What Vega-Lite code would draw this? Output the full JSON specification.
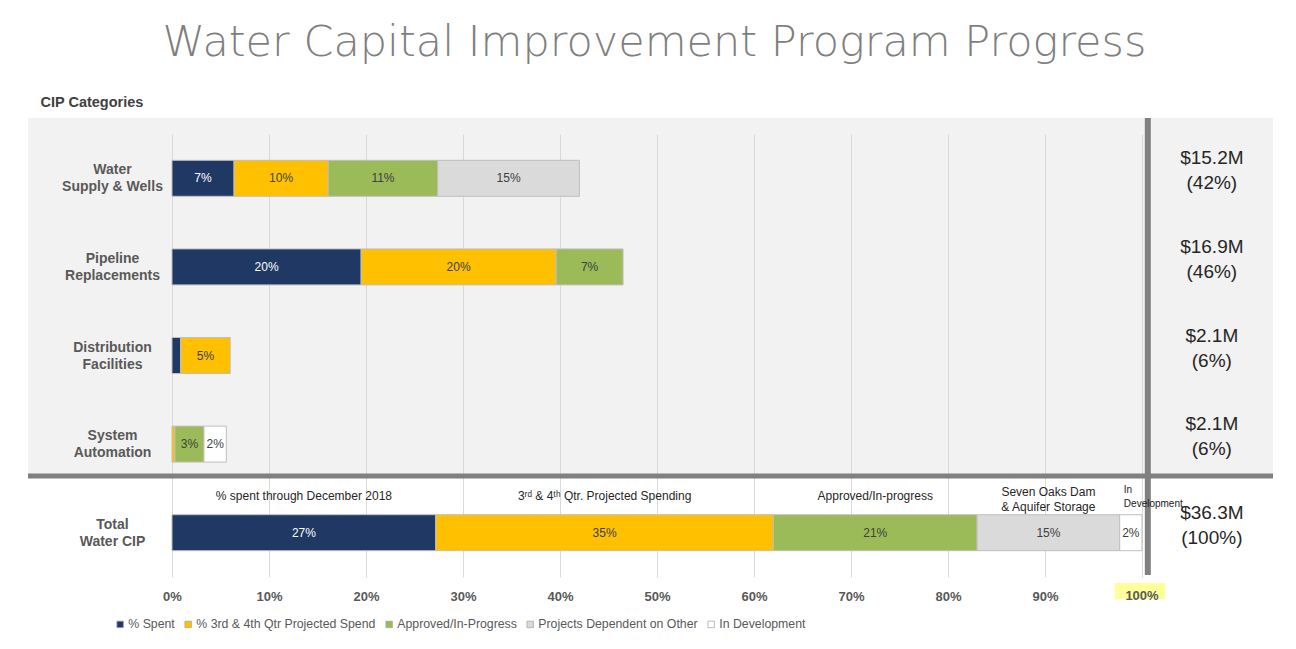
{
  "$schema": "https://vega.github.io/schema/vega-lite/v6.json",
  "width": 1245,
  "height": 358,
  "autosize": {"type": "none"},
  "padding": {"left": 28, "top": 118, "right": 23, "bottom": 173},
  "background": "white",
  "view": {"fill": "#f2f2f2", "stroke": null},
  "title": {
    "text": "Water Capital Improvement Program Progress",
    "font": "DejaVu Sans",
    "fontSize": 43,
    "fontWeight": 200,
    "color": "#7f7f7f",
    "anchor": "middle",
    "baseline": "alphabetic",
    "offset": -5,
    "dx": 4
  },
  "datasets": {
    "segments": [
      {"cat": "Water Supply & Wells", "type": "% Spent", "k": 1, "v": 6.4, "label": "7%", "note": ""},
      {"cat": "Water Supply & Wells", "type": "% 3rd & 4th Qtr Projected Spend", "k": 2, "v": 9.7, "label": "10%", "note": ""},
      {"cat": "Water Supply & Wells", "type": "Approved/In-Progress", "k": 3, "v": 11.3, "label": "11%", "note": ""},
      {"cat": "Water Supply & Wells", "type": "Projects Dependent on Other", "k": 4, "v": 14.6, "label": "15%", "note": ""},
      {"cat": "Pipeline Replacements", "type": "% Spent", "k": 1, "v": 19.5, "label": "20%", "note": ""},
      {"cat": "Pipeline Replacements", "type": "% 3rd & 4th Qtr Projected Spend", "k": 2, "v": 20.1, "label": "20%", "note": ""},
      {"cat": "Pipeline Replacements", "type": "Approved/In-Progress", "k": 3, "v": 6.9, "label": "7%", "note": ""},
      {"cat": "Distribution Facilities", "type": "% Spent", "k": 1, "v": 0.9, "label": "", "note": ""},
      {"cat": "Distribution Facilities", "type": "% 3rd & 4th Qtr Projected Spend", "k": 2, "v": 5.1, "label": "5%", "note": ""},
      {"cat": "System Automation", "type": "% 3rd & 4th Qtr Projected Spend", "k": 2, "v": 0.3, "label": "", "note": ""},
      {"cat": "System Automation", "type": "Approved/In-Progress", "k": 3, "v": 3.0, "label": "3%", "note": ""},
      {"cat": "System Automation", "type": "In Development", "k": 5, "v": 2.3, "label": "2%", "note": ""},
      {"cat": "Total Water CIP", "type": "% Spent", "k": 1, "v": 27.2, "label": "27%", "note": "% spent through December 2018"},
      {"cat": "Total Water CIP", "type": "% 3rd & 4th Qtr Projected Spend", "k": 2, "v": 34.8, "label": "35%", "note": "3ʳᵈ & 4ᵗʰ Qtr. Projected Spending"},
      {"cat": "Total Water CIP", "type": "Approved/In-Progress", "k": 3, "v": 21.0, "label": "21%", "note": "Approved/In-progress"},
      {"cat": "Total Water CIP", "type": "Projects Dependent on Other", "k": 4, "v": 14.7, "label": "15%", "note": "Seven Oaks Dam\n& Aquifer Storage"},
      {"cat": "Total Water CIP", "type": "In Development", "k": 5, "v": 2.3, "label": "2%", "note": "In\nDevelopment"}
    ],
    "totals": [
      {"cat": "Water Supply & Wells", "amt": "$15.2M\n(42%)"},
      {"cat": "Pipeline Replacements", "amt": "$16.9M\n(46%)"},
      {"cat": "Distribution Facilities", "amt": "$2.1M\n(6%)"},
      {"cat": "System Automation", "amt": "$2.1M\n(6%)"},
      {"cat": "Total Water CIP", "amt": "$36.3M\n(100%)"}
    ]
  },
  "layer": [
    {
      "data": {"name": "segments"},
      "mark": {"type": "bar", "stroke": "#bfbfbf", "strokeWidth": 1},
      "encoding": {
        "x": {
          "field": "v", "type": "quantitative", "stack": "zero", "title": null,
          "scale": {"domain": [-14.845, 113.505], "nice": false, "zero": false},
          "axis": {
            "orient": "top",
            "values": [0, 10, 20, 30, 40, 50, 60, 70, 80, 90, 100],
            "labelExpr": "datum.value < 100 ? datum.value + '%' : ''",
            "grid": true, "gridColor": "#d9d9d9", "gridWidth": 1,
            "domain": false, "ticks": false, "minExtent": 0, "maxExtent": 0,
            "labelPadding": -472, "labelBaseline": "top", "labelFontSize": 13,
            "labelFontWeight": "bold", "labelColor": "#595959",
            "labelOverlap": false, "labelFlush": false, "title": null
          }
        },
        "y": {
          "field": "cat", "type": "nominal", "title": "CIP Categories",
          "scale": {
            "domain": ["Water Supply & Wells", "Pipeline Replacements", "Distribution Facilities", "System Automation", "Total Water CIP"],
            "range": [16, 459], "paddingInner": 0.594, "paddingOuter": 0.297
          },
          "axis": {
            "offset": -144, "labelPadding": 60, "labelAlign": "center", "labelOffset": -8,
            "labelFontSize": 14, "labelFontWeight": "bold", "labelColor": "#595959",
            "labelLineHeight": 17, "labelOverlap": false, "labelLimit": 300,
            "labelExpr": "[slice(datum.label, 0, indexof(datum.label, ' ')), slice(datum.label, indexof(datum.label, ' ') + 1)]",
            "domain": false, "ticks": false, "grid": false,
            "title": "CIP Categories", "titleAngle": 0, "titleX": -132, "titleY": -12,
            "titleAlign": "left", "titleBaseline": "alphabetic", "titleFontSize": 14.5,
            "titleFontWeight": "bold", "titleColor": "#404040"
          }
        },
        "color": {
          "field": "type", "type": "nominal",
          "scale": {
            "domain": ["% Spent", "% 3rd & 4th Qtr Projected Spend", "Approved/In-Progress", "Projects Dependent on Other", "In Development"],
            "range": ["#203864", "#ffc000", "#9bbb59", "#dadada", "#ffffff"]
          },
          "legend": {
            "orient": "none", "legendX": 86, "legendY": 500, "direction": "horizontal",
            "title": null, "symbolType": "square", "symbolSize": 42,
            "labelFontSize": 12.3, "labelColor": "#595959", "columnPadding": 7, "labelLimit": 400,
            "labelOffset": 2, "symbolStrokeColor": "#a6a6a6", "symbolStrokeWidth": 0.75
          }
        },
        "order": {"field": "k", "type": "quantitative"}
      }
    },
    {
      "data": {"values": [{}]},
      "mark": {"type": "rule", "color": "#808080", "strokeWidth": 5},
      "encoding": {
        "x": {"value": 0},
        "x2": {"value": "width"},
        "y": {"value": "height"}
      }
    },
    {
      "data": {"values": [{}]},
      "mark": {"type": "rule", "y": 0, "y2": {"expr": "range('y')[1] - 2"}, "color": "#808080", "strokeWidth": 6},
      "encoding": {"x": {"datum": 100.6, "type": "quantitative", "title": null}}
    },
    {
      "data": {"values": [{}]},
      "mark": {"type": "rect", "color": "#ffff99", "y": {"expr": "range('y')[1] + 6"}, "y2": {"expr": "range('y')[1] + 22"}},
      "encoding": {
        "x": {"datum": 97.2, "type": "quantitative", "title": null},
        "x2": {"datum": 102.4}
      }
    },
    {
      "data": {"values": [{}]},
      "mark": {"type": "text", "y": {"expr": "range('y')[1] + 13"}, "baseline": "top", "fontSize": 13, "fontWeight": "bold", "color": "#595959"},
      "encoding": {
        "x": {"datum": 100, "type": "quantitative", "title": null},
        "text": {"value": "100%"}
      }
    },
    {
      "data": {"name": "segments"},
      "mark": {"type": "text", "fontSize": 12, "baseline": "middle"},
      "encoding": {
        "x": {"field": "v", "type": "quantitative", "stack": "zero", "bandPosition": 0.5, "title": null},
        "y": {"field": "cat", "type": "nominal", "title": "CIP Categories"},
        "detail": {"field": "type"},
        "order": {"field": "k", "type": "quantitative"},
        "text": {"field": "label"},
        "color": {"condition": {"test": "datum.type === '% Spent'", "value": "#ffffff"}, "value": "#404040"}
      }
    },
    {
      "data": {"name": "segments"},
      "mark": {"type": "text", "fontSize": 12, "baseline": "middle", "dy": -37, "color": "#262626"},
      "encoding": {
        "x": {"field": "v", "type": "quantitative", "stack": "zero", "bandPosition": 0.5, "title": null},
        "y": {"field": "cat", "type": "nominal", "title": "CIP Categories"},
        "detail": {"field": "type"},
        "order": {"field": "k", "type": "quantitative"},
        "text": {"condition": {"test": "datum.k <= 3", "field": "note"}, "value": ""}
      }
    },
    {
      "data": {"name": "segments"},
      "mark": {"type": "text", "fontSize": 12, "baseline": "middle", "dy": -41, "lineBreak": "\n", "lineHeight": 15, "color": "#262626"},
      "encoding": {
        "x": {"field": "v", "type": "quantitative", "stack": "zero", "bandPosition": 0.5, "title": null},
        "y": {"field": "cat", "type": "nominal", "title": "CIP Categories"},
        "detail": {"field": "type"},
        "order": {"field": "k", "type": "quantitative"},
        "text": {"condition": {"test": "datum.k === 4", "field": "note"}, "value": ""}
      }
    },
    {
      "data": {"name": "segments"},
      "mark": {"type": "text", "fontSize": 10, "align": "left", "baseline": "middle", "dx": -7, "dy": -43, "lineBreak": "\n", "lineHeight": 14, "color": "#1a1a1a"},
      "encoding": {
        "x": {"field": "v", "type": "quantitative", "stack": "zero", "bandPosition": 0.5, "title": null},
        "y": {"field": "cat", "type": "nominal", "title": "CIP Categories"},
        "detail": {"field": "type"},
        "order": {"field": "k", "type": "quantitative"},
        "text": {"condition": {"test": "datum.k === 5", "field": "note"}, "value": ""}
      }
    },
    {
      "data": {"name": "totals"},
      "mark": {"type": "text", "fontSize": 19, "baseline": "middle", "lineBreak": "\n", "lineHeight": 25, "color": "#262626", "dy": -20},
      "encoding": {
        "x": {"datum": 107.2, "type": "quantitative", "title": null},
        "y": {"field": "cat", "type": "nominal", "title": "CIP Categories"},
        "text": {"field": "amt"}
      }
    }
  ],
  "config": {
    "font": "Liberation Sans",
    "view": {"fill": "#f2f2f2", "stroke": null}
  }
}
